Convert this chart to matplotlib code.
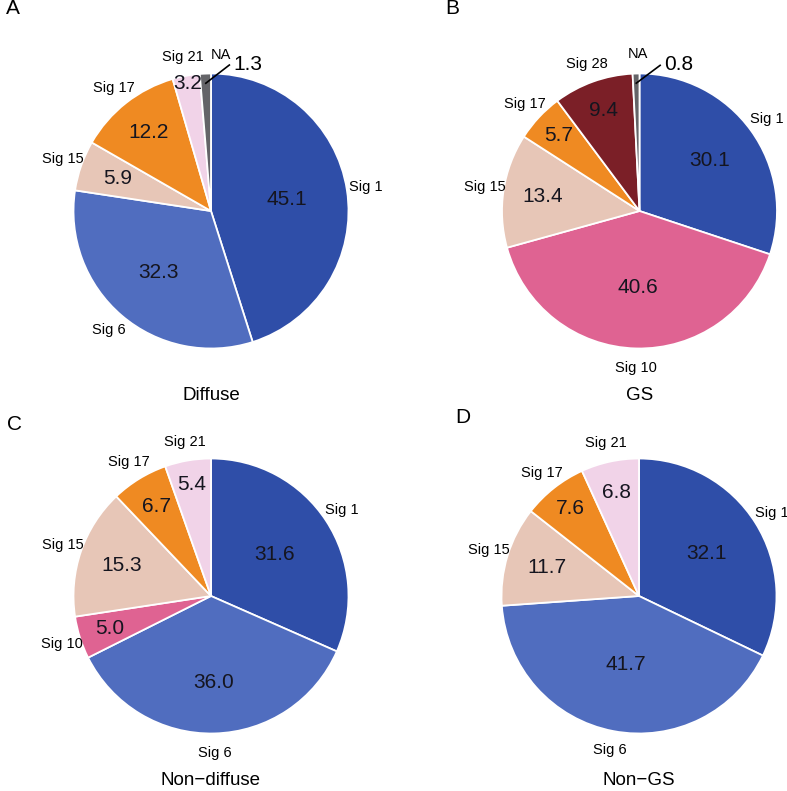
import numpy as np
import matplotlib
matplotlib.use("Agg")
import matplotlib.pyplot as plt

plt.rcParams['font.family'] = ['Liberation Sans', 'DejaVu Sans']

# data (percent)
diffuse_sigs = ["Sig 1", "Sig 6", "Sig 15", "Sig 17", "Sig 21", "NA"]
diffuse_vals = [45.1, 32.3, 5.9, 12.2, 3.2, 1.3]
gs_sigs = ["Sig 1", "Sig 10", "Sig 15", "Sig 17", "Sig 28", "NA"]
gs_vals = [30.1, 40.6, 13.4, 5.7, 9.4, 0.8]
nondiffuse_sigs = ["Sig 1", "Sig 6", "Sig 10", "Sig 15", "Sig 17", "Sig 21"]
nondiffuse_vals = [31.6, 36.0, 5.0, 15.3, 6.7, 5.4]
nongs_sigs = ["Sig 1", "Sig 6", "Sig 15", "Sig 17", "Sig 21"]
nongs_vals = [32.1, 41.7, 11.7, 7.6, 6.8]
titles = ["Diffuse", "GS", "Non\u2212diffuse", "Non\u2212GS"]
tags = ["A", "B", "C", "D"]

colors = {
    "Sig 1": "#2f4ea8",
    "Sig 6": "#506dbf",
    "Sig 10": "#df6392",
    "Sig 15": "#e7c6b7",
    "Sig 17": "#ef8a22",
    "Sig 21": "#f1d3e8",
    "Sig 28": "#7b1f27",
    "NA": "#646468",
}

# layout (pixels in the 787x791 output)
W, H = 787, 791
R = 137.5
half = 200
centers = [(211, 211), (639.5, 211), (211, 596), (639, 596)]
tag_pos = [(13, 9), (452, 9), (15, 425), (463, 418)]
# radial position of the value labels, in pie radii
value_r = [
    [0.56, 0.59, 0.72, 0.73, 0.94, None],
    [0.63, 0.56, 0.71, 0.80, 0.78, None],
    [0.55, 0.63, 0.77, 0.69, 0.76, 0.82],
    [0.58, 0.51, 0.70, 0.81, 0.77],
]
# small angle nudges (degrees) for crowded name labels
name_nudge = [{"NA": -6}, {"NA": -1}, {}, {}]

panels = [
    (diffuse_sigs, diffuse_vals),
    (gs_sigs, gs_vals),
    (nondiffuse_sigs, nondiffuse_vals),
    (nongs_sigs, nongs_vals),
]


def polar(ang, r):
    a = np.deg2rad(ang)
    return r * np.cos(a), r * np.sin(a)


fig = plt.figure(figsize=(W / 100, H / 100), dpi=100)
lim = half / R

for i, (sigs, vals) in enumerate(panels):
    cx, cy = centers[i]
    ax = fig.add_axes([(cx - half) / W, 1 - (cy + half) / H, 2 * half / W, 2 * half / H])
    ax.pie(vals, colors=[colors[s] for s in sigs], startangle=90, counterclock=False,
           radius=1, wedgeprops=dict(edgecolor="white", linewidth=1.3))
    ax.set_xlim(-lim, lim)
    ax.set_ylim(-lim, lim)
    ax.set_aspect("equal")
    ax.axis("off")

    total = sum(vals)
    cum = 0
    for j, (s, v) in enumerate(zip(sigs, vals)):
        mid = 90 - (cum + v / 2) / total * 360
        cum += v
        x, y = polar(mid + name_nudge[i].get(s, 0), 1.14)
        ax.text(x, y, s, ha="center", va="center", fontsize=10.5, color="black")
        if value_r[i][j] is None:
            # tiny slice: value outside with a leader line
            x0, y0 = polar(mid, 0.93)
            x1, y1 = polar(mid - 9.5, 1.07)
            ax.plot([x0, x1], [y0, y1], color="black", lw=1.2)
            tx, ty = polar(mid - 11, 1.08)
            ax.text(tx, ty, f"{v:.1f}", ha="left", va="center", fontsize=15, color="black")
        else:
            x, y = polar(mid, value_r[i][j])
            ax.text(x, y, f"{v:.1f}", ha="center", va="center", fontsize=15, color="#15151f")

    ax.text(0, -1.34, titles[i], ha="center", va="center", fontsize=13.5)
    tx, ty = tag_pos[i]
    fig.text(tx / W, 1 - ty / H, tags[i], ha="center", va="center", fontsize=15)

fig.savefig("out.png", dpi=100)
